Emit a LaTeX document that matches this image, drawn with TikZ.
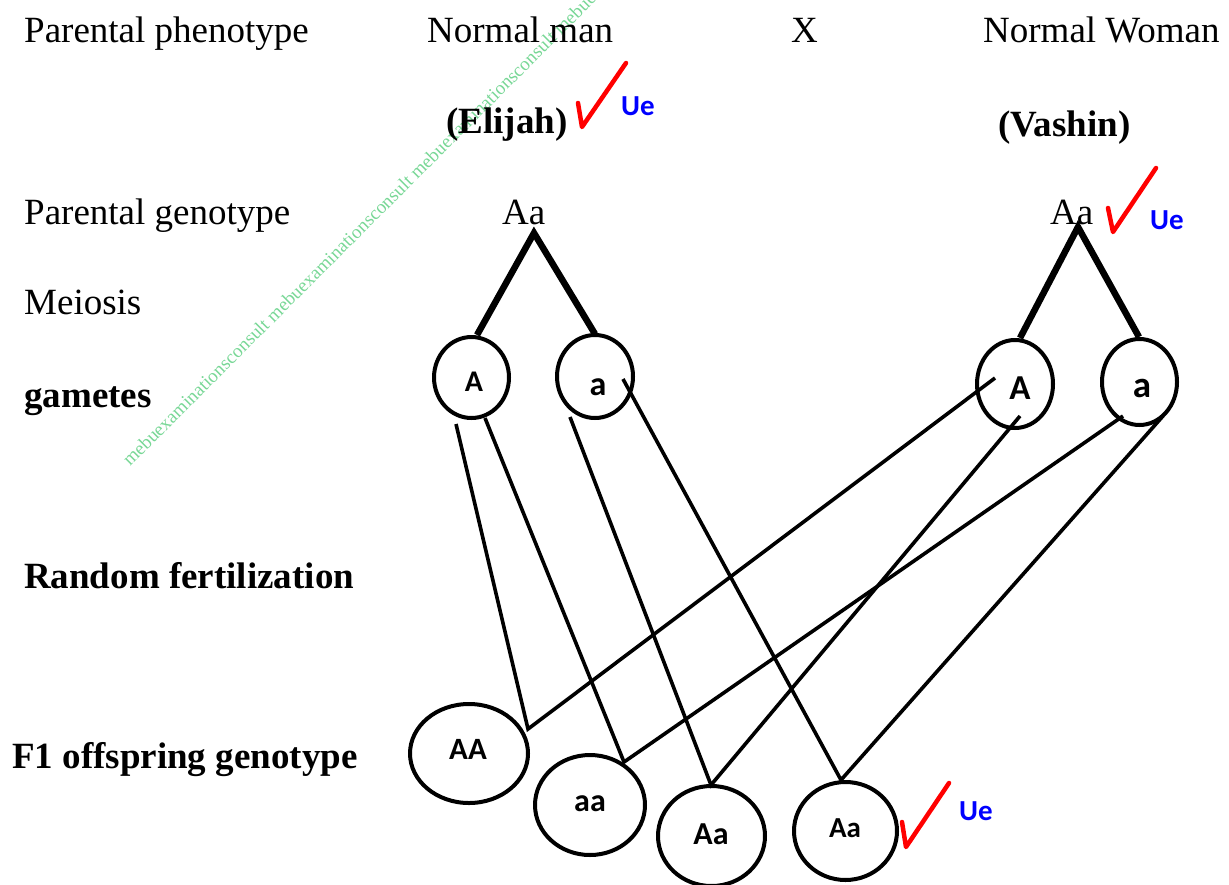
\documentclass[tikz,border=0pt]{standalone}
\usepackage{fontspec}
\setmainfont{Liberation Serif}
\newfontfamily\calibf{Carlito}
\usetikzlibrary{shapes.geometric}
\definecolor{wmgreen}{RGB}{120,215,150}
\tikzset{
  lbl/.style={font=\fontsize{37}{44}\selectfont, anchor=base west, inner sep=0pt},
  blbl/.style={font=\bfseries\fontsize{37}{44}\selectfont, anchor=base west, inner sep=0pt},
  cell/.style={draw, ellipse, line width=4pt, inner sep=0pt},
  gtxt/.style={font=\calibf\bfseries\fontsize{#1}{#1}\selectfont, anchor=base, inner sep=0pt},
  fineline/.style={line width=3.6pt},
  boldline/.style={line width=6.5pt},
  tick/.style={red, line width=4.5pt, line join=round, line cap=round},
  ue/.style={font=\calibf\bfseries\fontsize{29}{30}\selectfont, text=blue, anchor=base west, inner sep=0pt},
  wmark/.style={font=\fontsize{19}{20}\selectfont, text=wmgreen, anchor=base west, inner sep=0pt, rotate=45}
}
\begin{document}
\begin{tikzpicture}[x=1pt,y=-1pt]
\useasboundingbox (0,0) rectangle (1229,884);
\begin{scope}
\clip (0,0) rectangle (1229,884);
\node[wmark] (wm) at (130,467) {mebuexaminationsconsult mebuexaminationsconsult mebuexaminationsconsult mebuexaminationsconsult};
\end{scope}

% labels
\node[lbl] (pp) at (24,42) {Parental phenotype};
\node[lbl] (nm) at (427,42) {Normal man};
\node[lbl] (xx) at (791,42) {X};
\node[lbl] (nw) at (983,42) {Normal Woman};
\node[blbl] (el) at (446,133) {(Elijah)};
\node[blbl] (va) at (998,136) {(Vashin)};
\node[lbl] (pg) at (24,224) {Parental genotype};
\node[lbl] (gL) at (502,224) {Aa};
\node[lbl] (gR) at (1050,224) {Aa};
\node[lbl] (me) at (24,314) {Meiosis};
\node[blbl] (ga) at (24,407) {gametes};
\node[blbl] (rf) at (24,588) {Random fertilization};
\node[blbl] (f1) at (12,768) {F1 offspring genotype};

% gametes
\node[cell, minimum width=75pt, minimum height=81pt] (A1) at (471.5,377.5) {};
\node[cell, minimum width=76pt, minimum height=83pt] (a1) at (595,376.5) {};
\node[cell, minimum width=76pt, minimum height=88pt] (A2) at (1015,384) {};
\node[cell, minimum width=75pt, minimum height=86pt] (a2) at (1139.5,382) {};
\node[gtxt=30] (tA1) at (474,391) {A};
\node[gtxt=34] (ta1) at (598,395) {a};
\node[gtxt=35] (tA2) at (1020,399) {A};
\node[gtxt=37] (ta2) at (1142,397) {a};

% offspring
\node[cell, minimum width=118pt, minimum height=99pt] (AA) at (469,753.5) {};
\node[cell, minimum width=110pt, minimum height=100pt] (aa) at (590,805) {};
\node[cell, minimum width=107pt, minimum height=100pt] (Aa3) at (711.5,836) {};
\node[cell, minimum width=103pt, minimum height=98pt] (Aa4) at (845.5,831) {};
\node[gtxt=31] (tAA) at (468,759) {AA};
\node[gtxt=32] (taa) at (590,811) {aa};
\node[gtxt=32] (tAa3) at (711,844) {Aa};
\node[gtxt=29] (tAa4) at (845,837) {Aa};

% meiosis lines
\coordinate (apL) at (534,233);
\coordinate (apR) at (1078,227);
\coordinate (A1t) at (477,335);
\coordinate (a1t) at (595,334);
\coordinate (A2t) at (1020,338);
\coordinate (a2t) at (1139,337);
\draw[boldline] (A1t) -- (apL) -- (a1t);
\draw[boldline] (A2t) -- (apR) -- (a2t);

% fertilization lines
\coordinate (A1s1) at (456,424);
\coordinate (A1s2) at (485,418);
\coordinate (a1s1) at (570,417);
\coordinate (a1s2) at (623,379);
\coordinate (AAv) at (528,729);
\coordinate (aav) at (624,762);
\coordinate (Aa3v) at (711,785);
\coordinate (Aa4v) at (841,780);
\coordinate (A2p1) at (995,378);
\coordinate (A2p2) at (1020,416);
\coordinate (a2p1) at (1123,416);
\coordinate (a2p2) at (1163,416);
\draw[fineline] (A1s1) -- (AAv) -- (A2p1);
\draw[fineline] (A1s2) -- (aav) -- (a2p1);
\draw[fineline] (a1s1) -- (Aa3v) -- (A2p2);
\draw[fineline] (a1s2) -- (Aa4v) -- (a2p2);

% ticks
\draw[tick] (578,103) -- (582,127) -- (626,63);
\node[ue] (ue1) at (621,115) {Ue};
\draw[tick] (1108,208) -- (1113,232) -- (1156,168);
\node[ue] (ue2) at (1150,229) {Ue};
\draw[tick] (902,822) -- (906,847) -- (949,783);
\node[ue] (ue3) at (959,820) {Ue};
\end{tikzpicture}
\end{document}
